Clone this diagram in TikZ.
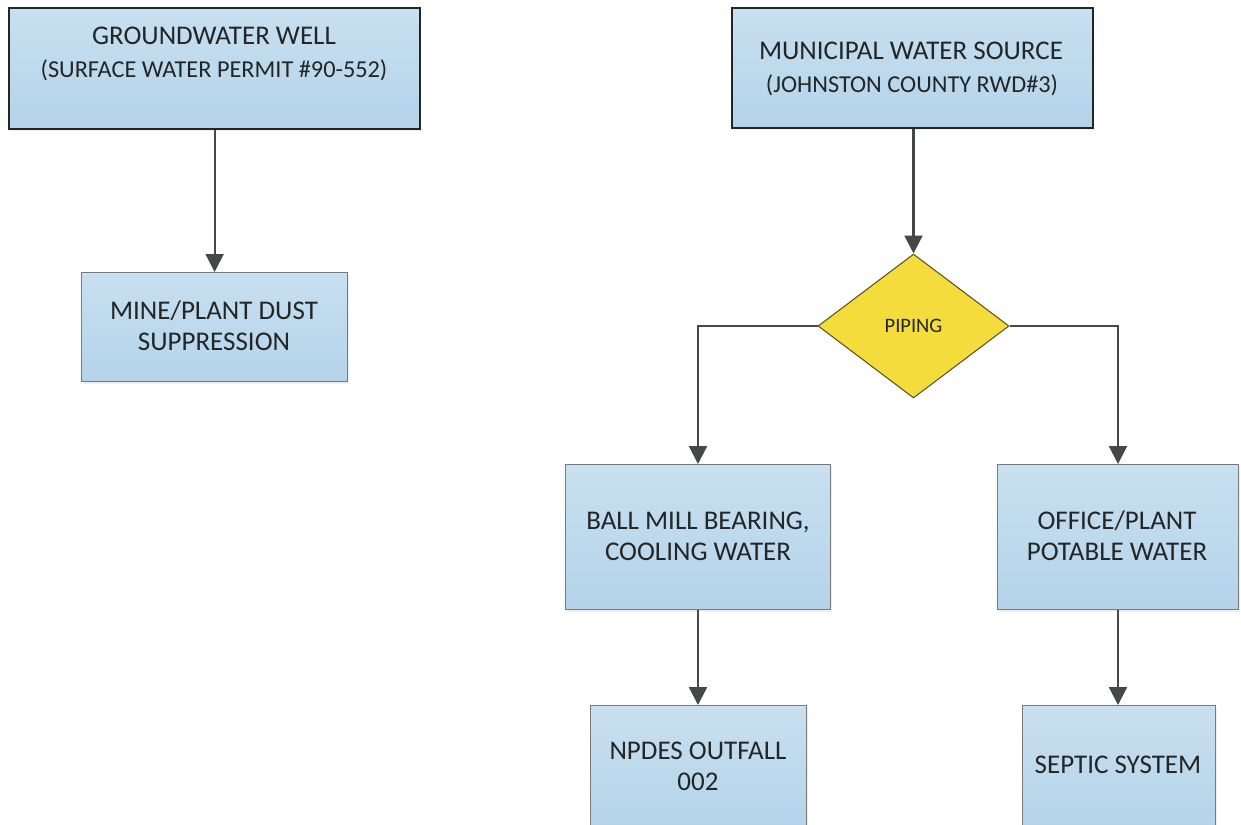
\documentclass[tikz,border=0pt]{standalone}
\usepackage{fontspec}
\setmainfont{Carlito}
\usetikzlibrary{arrows.meta,shapes.geometric,shadows}
\definecolor{ink}{HTML}{222627}
\definecolor{wire}{HTML}{454847}
\definecolor{boxtop}{HTML}{C8E0F0}
\definecolor{boxbot}{HTML}{B4D3E9}
\definecolor{edgeg}{HTML}{77797A}
\definecolor{dia}{HTML}{F4DC3C}
\tikzset{
  x=1pt,y=-1pt,
  bx/.style={rectangle,draw=edgeg,line width=1pt,top color=boxtop,bottom color=boxbot,inner sep=0pt,anchor=north west,
    general shadow={fill=black!18,shadow xshift=1pt,shadow yshift=-2pt,opacity=.35}},
  heavy/.style={draw=ink,line width=2.2pt},
  big/.style={text=ink,font=\fontsize{27}{27}\selectfont,align=center,inner sep=0pt},
  small/.style={text=ink,font=\fontsize{24.3}{24.3}\selectfont,align=center,inner sep=0pt},
  arr/.style={draw=wire,line width=2.2pt,-{Triangle[length=18pt,width=18pt,fill=wire]}},
}
\begin{document}
\begin{tikzpicture}
\useasboundingbox (0,0) rectangle (1241,824);
\clip (0,0) rectangle (1241,824);
\node[bx,heavy,minimum width=411pt,minimum height=121pt] (gw) at (8,7) {};
\node[bx,heavy,minimum width=361pt,minimum height=120pt] (mu) at (731,7) {};
\node[bx,minimum width=266pt,minimum height=109pt] (mi) at (81,272) {};
\node[bx,minimum width=265pt,minimum height=145pt] (ba) at (565,464) {};
\node[bx,minimum width=241pt,minimum height=145pt] (of) at (997,464) {};
\node[bx,minimum width=216pt,minimum height=125pt] (np) at (590,705) {};
\node[bx,minimum width=193pt,minimum height=125pt] (se) at (1022,705) {};
\node[diamond,draw=black!65!dia,line width=1pt,fill=dia,minimum width=191pt,minimum height=144pt,inner sep=0pt,aspect=1.33] (pi) at (913.5,326) {};

\node[big] (t1) at (214,36) {GROUNDWATER WELL};
\node[small] (t2) at (214,70) {(SURFACE WATER PERMIT \#90-552)};
\node[big] (t3) at (911,51) {MUNICIPAL WATER SOURCE};
\node[small] (t4) at (912,85) {(JOHNSTON COUNTY RWD\#3)};
\node[big] (t5) at (214,326) {MINE/PLANT DUST\\[4pt]SUPPRESSION};
\node[small,font=\fontsize{20.5}{20.5}\selectfont] (t6) at (913.5,326) {PIPING};
\node[big] (t7) at (698,536) {BALL MILL BEARING,\\[4pt]COOLING WATER};
\node[big] (t8) at (1117,536) {OFFICE/PLANT\\[4pt]POTABLE WATER};
\node[big] (t9) at (698,766) {NPDES OUTFALL\\[4pt]002};
\node[big] (t10) at (1118,765) {SEPTIC SYSTEM};

\draw[arr] (gw.south) -- (mi.north-|gw.south);
\draw[arr] (mu.south-|pi.north) -- (pi.north);
\draw[arr] (pi.west) -| (ba.north);
\draw[arr] (pi.east) -| (of.north);
\draw[arr] (ba.south) -- (np.north-|ba.south);
\draw[arr] (of.south) -- (se.north-|of.south);
\end{tikzpicture}
\end{document}
